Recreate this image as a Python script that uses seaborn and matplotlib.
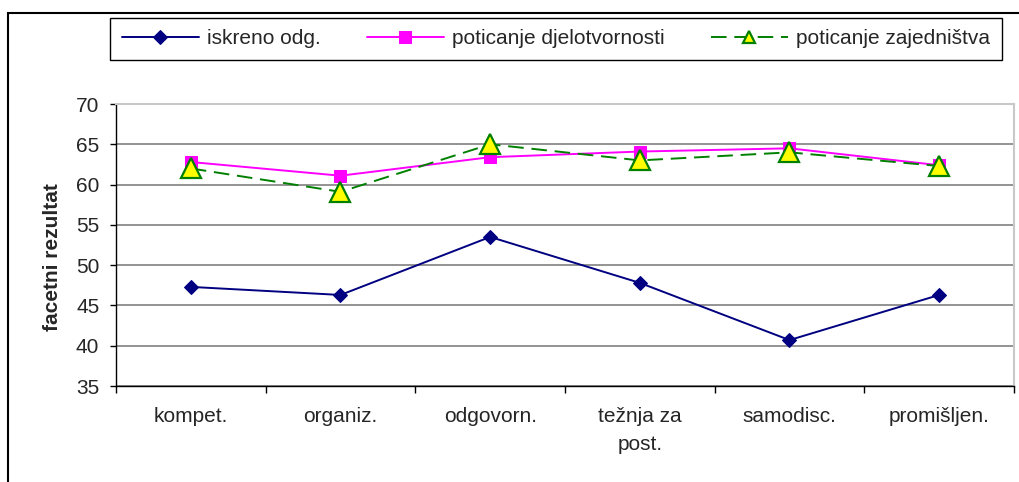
import matplotlib
matplotlib.use("Agg")
import matplotlib.pyplot as plt
import matplotlib.patches as patches
from matplotlib.ticker import FixedLocator
import seaborn as sns
import pandas as pd

# values
categories = ["kompet.", "organiz.", "odgovorn.", "težnja za\npost.", "samodisc.", "promišljen."]
iskreno = [47.3, 46.3, 53.5, 47.8, 40.7, 46.3]
djelotvornost = [62.8, 61.1, 63.4, 64.1, 64.5, 62.4]
zajednistvo = [62.0, 59.1, 65.0, 63.0, 64.0, 62.3]
series_names = ["iskreno odg.", "poticanje djelotvornosti", "poticanje zajedništva"]
y_ticks = [35, 40, 45, 50, 55, 60, 65, 70]

sns.set_style("white")
plt.rcParams["font.family"] = ["Liberation Sans", "DejaVu Sans"]
plt.rcParams["font.size"] = 15

df = pd.DataFrame({"facet": categories, "isk": iskreno, "djel": djelotvornost, "zaj": zajednistvo})

fig = plt.figure(figsize=(10.2, 4.82), dpi=100)
ax = fig.add_axes([116 / 1020, 1 - 386 / 482, 898 / 1020, 282 / 482])

sns.lineplot(data=df, x="facet", y="isk", ax=ax, sort=False, color="#000080", lw=1.4,
             marker="D", markersize=7.5, markeredgecolor="#000080", markerfacecolor="#000080",
             label=series_names[0])
sns.lineplot(data=df, x="facet", y="djel", ax=ax, sort=False, color="#FF00FF", lw=1.4,
             marker="s", markersize=8, markeredgecolor="#FF00FF", markerfacecolor="#FF00FF",
             label=series_names[1])
sns.lineplot(data=df, x="facet", y="zaj", ax=ax, sort=False, color="#008000", lw=1.4,
             linestyle=(0, (8, 4)), marker="^", markersize=14, markeredgecolor="#008000",
             markerfacecolor="#FFFF00", markeredgewidth=1.6, label=series_names[2])

ax.set_ylim(35, 70)
ax.set_xlim(-0.5, len(categories) - 0.5)
ax.set_yticks(y_ticks)
ax.yaxis.grid(True, color="#808080", lw=1.2)
ax.set_axisbelow(True)
ax.set_xlabel("")
ax.set_ylabel("facetni rezultat", fontweight="bold", fontsize=15)
ax.yaxis.set_label_coords(-0.060, 0.457)
for lbl in ax.get_xticklabels():
    lbl.set_linespacing(1.6)

ax.tick_params(axis="y", direction="out", length=4, width=1, color="black", pad=8, left=True)
ax.tick_params(axis="x", which="major", length=0, pad=15)
ax.xaxis.set_minor_locator(FixedLocator([i - 0.5 for i in range(len(categories) + 1)]))
ax.tick_params(axis="x", which="minor", direction="out", length=5, width=1, color="black", bottom=True)

for side in ["left", "bottom"]:
    ax.spines[side].set_color("black")
    ax.spines[side].set_linewidth(1)
for side in ["top", "right"]:
    ax.spines[side].set_color("#c8c8c8")
    ax.spines[side].set_linewidth(1.5)

handles, labels = ax.get_legend_handles_labels()
ax.get_legend().remove()
leg = fig.legend(handles, labels, loc="center", bbox_to_anchor=(556 / 1020, 1 - 39 / 482),
                 ncol=3, frameon=True, fancybox=False, edgecolor="black", framealpha=1,
                 handlelength=3.7, handletextpad=0.4, columnspacing=2.2, borderpad=0.55,
                 borderaxespad=0, fontsize=15)
leg.get_frame().set_linewidth(1)
leg.legend_handles[2].set_markersize(9)

# outer chart frame
fig.patches.append(patches.Rectangle((8 / 1020, -0.1), 1.2, 1 - 13 / 482 + 0.1,
                                     transform=fig.transFigure, fill=False,
                                     edgecolor="black", lw=1.5))

fig.savefig("out.png", dpi=100)
